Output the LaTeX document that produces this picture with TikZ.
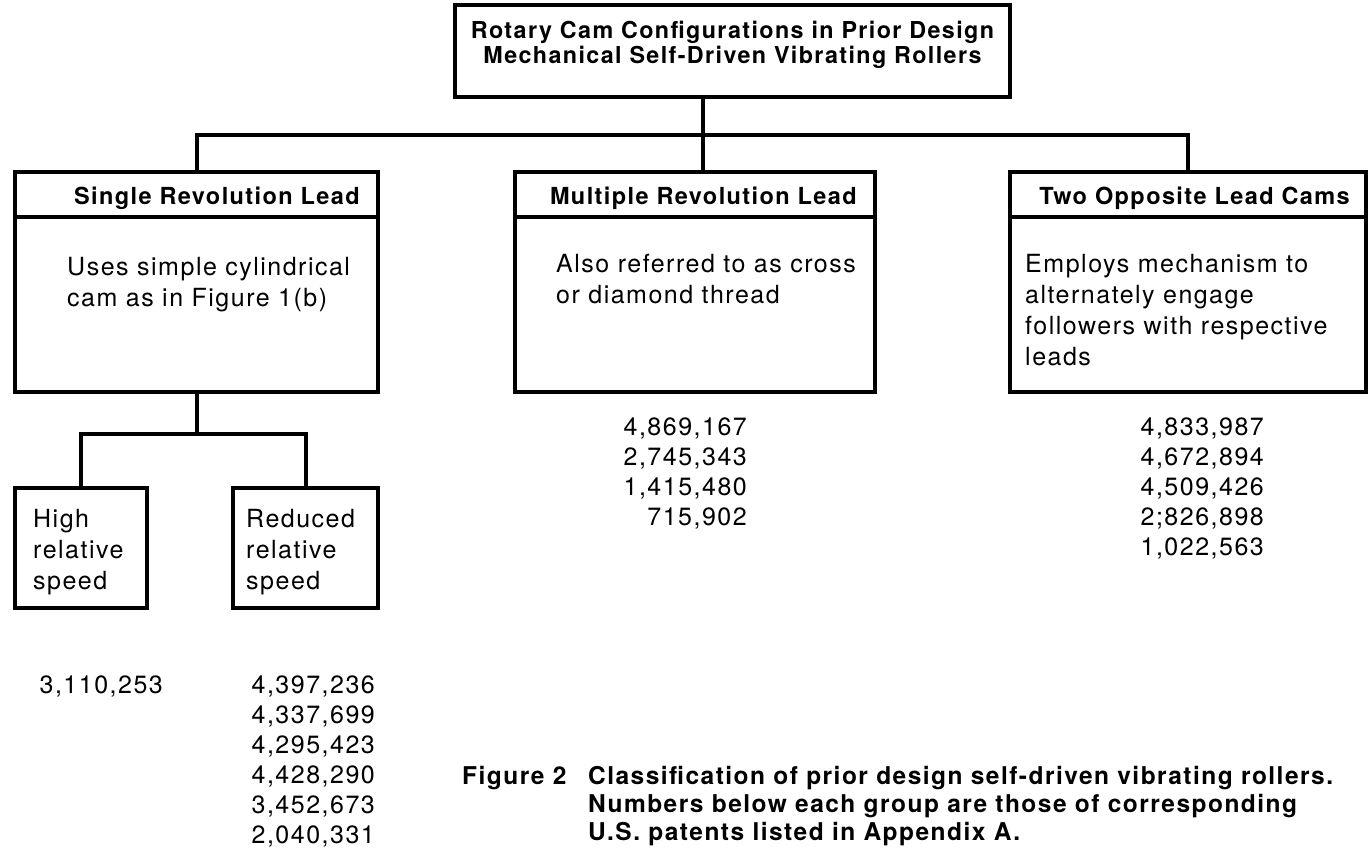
\documentclass[tikz,border=0pt]{standalone}
\usepackage{fontspec}
\setmainfont{TeX Gyre Heros}
\newfontfamily\bodyfont[LetterSpace=6]{TeX Gyre Heros}
\begin{document}
\begin{tikzpicture}[x=1pt,y=-1pt]
\tikzstyle{every node}+=[inner sep=0pt]
\tikzstyle{box}=[draw=black,line width=4pt,rectangle]
\tikzstyle{link}=[black,line width=4pt]
\tikzstyle{head}=[font=\bodyfont\fontsize{23.5}{26}\selectfont\bfseries,anchor=east]
\tikzstyle{body}=[font=\bodyfont\fontsize{25}{31}\selectfont,align=left,anchor=north west]
\tikzstyle{nums}=[font=\bodyfont\fontsize{25}{30}\selectfont,align=right,anchor=north east]
\tikzstyle{figcap}=[font=\bodyfont\fontsize{24.5}{28}\selectfont\bfseries,align=left,anchor=north west]
\useasboundingbox (0,0) rectangle (1369,852);
\node [box,minimum width=555pt,minimum height=92pt] (title) at (732.5,51) {};
\node [align=center,font=\bodyfont\fontsize{23.3}{25}\selectfont\bfseries] (titletext)
  at ([yshift=6pt]title.center)
  {Rotary Cam Configurations in Prior Design\\Mechanical Self-Driven Vibrating Rollers};
\node [box,minimum width=363pt,minimum height=220pt] (single) at (196.5,282) {};
\node [box,minimum width=360pt,minimum height=220pt] (multi) at (695,282) {};
\node [box,minimum width=356pt,minimum height=220pt] (twocam) at (1188,282) {};
\node [head] (singlehead) at ([xshift=-20pt,yshift=-28pt]single.north east) {Single Revolution Lead};
\node [head] (multihead) at ([xshift=-20pt,yshift=-28pt]multi.north east) {Multiple Revolution Lead};
\node [head] (twocamhead) at ([xshift=-18pt,yshift=-28pt]twocam.north east) {Two Opposite Lead Cams};
\draw [link] ([yshift=-47pt]single.north west) -- ([yshift=-47pt]single.north east);
\draw [link] ([yshift=-47pt]multi.north west) -- ([yshift=-47pt]multi.north east);
\draw [link] ([yshift=-47pt]twocam.north west) -- ([yshift=-47pt]twocam.north east);
\node [body] (singlebody) at ([xshift=54pt,yshift=-87pt]single.north west)
  {Uses simple cylindrical\\cam as in Figure 1(b)};
\node [body] (multibody) at ([xshift=43pt,yshift=-84pt]multi.north west)
  {Also referred to as cross\\or diamond thread};
\node [body] (twocambody) at ([xshift=17pt,yshift=-84pt]twocam.north west)
  {Employs mechanism to\\alternately engage\\followers with respective\\leads};
\node [box,minimum width=132pt,minimum height=120pt] (high) at (81,548) {};
\node [box,minimum width=145pt,minimum height=120pt] (reduced) at (305.5,548) {};
\node [body] (highbody) at ([xshift=20pt,yshift=-23pt]high.north west) {High\\relative\\speed};
\node [body] (reducedbody) at ([xshift=15pt,yshift=-23pt]reduced.north west) {Reduced\\relative\\speed};
\coordinate (hub) at (703,135);
\coordinate (fork) at (196.5,434);
\draw [link] (title.south -| hub) -- (multi.north -| hub);
\draw [link] (single.north) |- (hub) -| (twocam.north);
\draw [link] (single.south) -- (fork);
\draw [link] (high.north) |- (fork) -| (reduced.north);
\node [nums] (multinums) at (747,418) {4,869,167\\2,745,343\\1,415,480\\715,902};
\node [nums] (twocamnums) at (1264,418) {4,833,987\\4,672,894\\4,509,426\\2;826,898\\1,022,563};
\node [nums] (highnums) at (163,676) {3,110,253};
\node [nums] (reducednums) at (375,676) {4,397,236\\4,337,699\\4,295,423\\4,428,290\\3,452,673\\2,040,331};
\node [figcap] (capnum) at (462,766) {Figure 2};
\node [figcap] (captext) at (588,766) {Classification of prior design self-driven vibrating rollers.\\Numbers below each group are those of corresponding\\U.S. patents listed in Appendix A.};
\end{tikzpicture}
\end{document}
